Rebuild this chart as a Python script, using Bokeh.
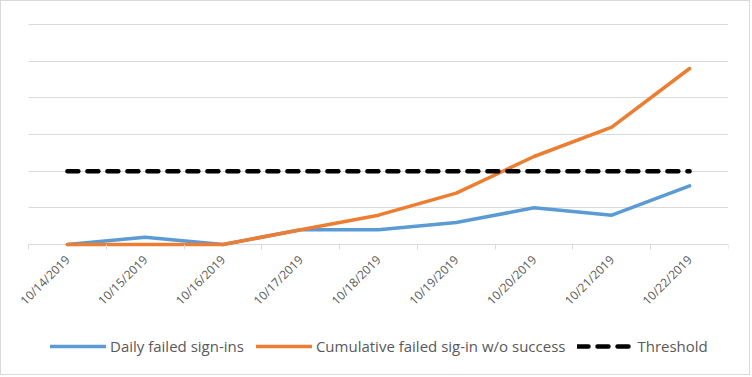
from bokeh.plotting import figure
from bokeh.models import Range1d, FixedTicker, Legend, LegendItem, ColumnDataSource
from bokeh.embed import file_html
from bokeh.resources import INLINE
import math

dates = ["10/14/2019", "10/15/2019", "10/16/2019", "10/17/2019", "10/18/2019",
         "10/19/2019", "10/20/2019", "10/21/2019", "10/22/2019"]
daily = [0, 1, 0, 2, 2, 3, 5, 4, 8]
cumulative = [0, 0, 0, 2, 4, 7, 12, 16, 24]
threshold = [10] * len(dates)
y_ticks = [0, 5, 10, 15, 20, 25, 30]

xs = [i + 0.5 for i in range(len(dates))]
src = ColumnDataSource(dict(x=xs, daily=daily, cum=cumulative, thr=threshold))

FONT = "Open Sans"
GRID = "#D9D9D9"

n = len(dates)
top = y_ticks[-1]
# frame covers the left edge and the bottom so rotated labels and legend are not clipped
p = figure(width=750, height=375, output_backend="svg", toolbar_location=None,
           x_range=Range1d(-27 * n / 700, n), y_range=Range1d(-18, top + top / 220),
           min_border_left=0, min_border_right=23, min_border_top=22, min_border_bottom=0)
p.styles = {"border": "1px solid #D9D9D9"}
p.outline_line_color = None
p.background_fill_color = "white"
p.border_fill_color = "white"

p.yaxis.visible = False
p.xgrid.visible = False
p.ygrid.ticker = FixedTicker(ticks=y_ticks)
p.ygrid.grid_line_color = GRID
p.ygrid.grid_line_width = 1
g = p.ygrid[0]
if hasattr(g, "cross_bounds"):
    g.cross_bounds = (0, n)

ax = p.xaxis[0]
ax.fixed_location = 0
ax.ticker = FixedTicker(ticks=xs, minor_ticks=list(range(n + 1)))
ax.major_label_overrides = {x: d for x, d in zip(xs, dates)}
ax.major_tick_line_color = None
ax.major_tick_out = 0
ax.major_tick_in = 0
ax.minor_tick_line_color = GRID
ax.minor_tick_out = 5
ax.minor_tick_in = 0
ax.axis_line_color = None
ax.major_label_orientation = math.pi / 4
ax.major_label_text_font = FONT
ax.major_label_text_font_size = "12px"
ax.major_label_text_color = "#595959"
ax.major_label_standoff = 8

r1 = p.line("x", "daily", source=src, line_color="#5B9BD5", line_width=3.5, line_join="round", line_cap="round")
r2 = p.line("x", "cum", source=src, line_color="#ED7D31", line_width=3.5, line_join="round", line_cap="round")
r3 = p.line("x", "thr", source=src, line_color="black", line_width=4.5, line_dash="11 9", line_cap="round")

legend = Legend(items=[LegendItem(label="Daily failed sign-ins", renderers=[r1]),
                       LegendItem(label="Cumulative failed sig-in w/o success", renderers=[r2]),
                       LegendItem(label="Threshold", renderers=[r3])],
                orientation="horizontal", location=(49, 20),
                label_text_font=FONT, label_text_font_size="15px", label_text_color="#595959",
                glyph_width=56, glyph_height=20, label_height=20, spacing=12, label_standoff=4,
                border_line_color=None, background_fill_alpha=0, margin=0, padding=0)
p.add_layout(legend, "center")

open("out.html", "w").write(file_html(p, INLINE))
